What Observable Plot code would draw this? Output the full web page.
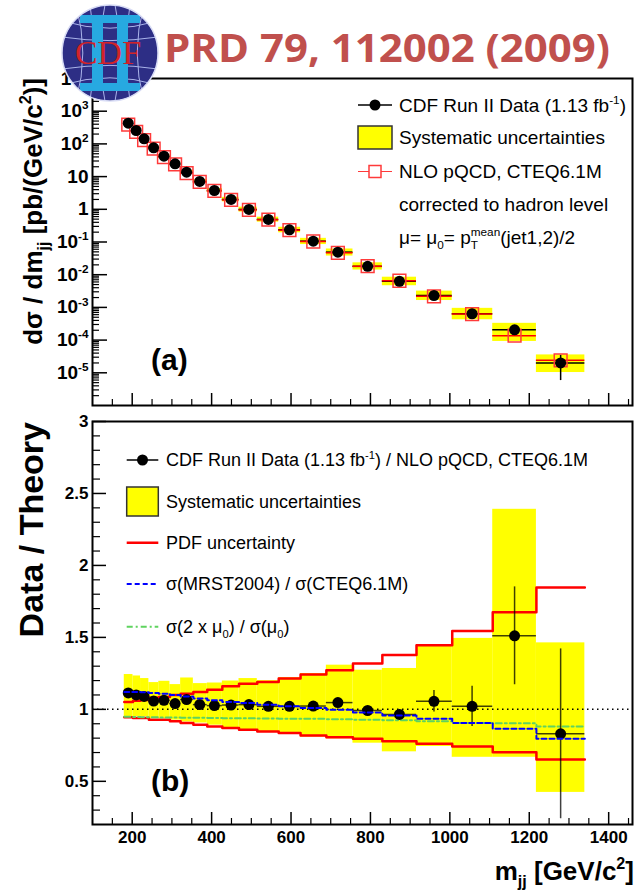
<!DOCTYPE html>
<html><head><meta charset="utf-8">
<script src="https://cdn.jsdelivr.net/npm/d3@7"></script>
<script src="https://cdn.jsdelivr.net/npm/@observablehq/plot@0.6"></script>
<style>
html,body{margin:0;padding:0;background:#fff;}
#wrap{position:relative;width:636px;height:890px;overflow:hidden;background:#fff;}
</style></head><body><div id="wrap"></div>
<script>
// ---------------- data ----------------
const binLow  = [180,202,221,242,267,295,322,354,389,427,469,515,569,624,689,756,830,916,1006,1108,1218];
const binHigh = [202,221,242,267,295,322,354,389,427,469,515,569,624,689,756,830,916,1006,1108,1218,1340];
const massCenter = [190,210,230,254,280,308,337,370,407,449,494,543,596,656,718,793,873,960,1056,1163,1279];
// dsigma/dmjj [pb/(GeV/c^2)]
const dataXsec = [430,257,143,76,42,24.5,13.6,7.1,3.76,2.0,0.99,0.49,0.236,0.106,0.049,0.018,0.0063,0.00231,0.00064,0.000206,0.00002];
const nloXsec  = [386,234,131,71.8,39.5,23.6,12.7,6.87,3.66,1.94,0.958,0.48,0.231,0.1036,0.0468,0.01815,0.00653,0.00219,0.000627,0.000136,0.0000241];
// Data / Theory
const ratio   = [1.114,1.100,1.090,1.058,1.063,1.040,1.068,1.033,1.026,1.030,1.033,1.021,1.021,1.023,1.047,0.992,0.965,1.056,1.021,1.511,0.830];
const statErr = [0.005,0.005,0.005,0.006,0.006,0.007,0.008,0.008,0.009,0.010,0.011,0.012,0.014,0.017,0.020,0.025,0.030,0.075,0.140,0.340,0.590];
const systLow  = [0.950,0.950,0.948,0.935,0.935,0.925,0.912,0.905,0.890,0.872,0.858,0.842,0.826,0.807,0.795,0.765,0.705,0.742,0.667,0.667,0.423];
const systHigh = [1.242,1.232,1.214,1.186,1.195,1.172,1.218,1.179,1.183,1.197,1.214,1.200,1.221,1.249,1.307,1.272,1.284,1.440,1.493,2.390,1.462];
const pdfLow  = [0.946,0.940,0.940,0.928,0.928,0.918,0.905,0.893,0.881,0.870,0.858,0.847,0.835,0.819,0.807,0.795,0.779,0.761,0.742,0.702,0.651];
const pdfHigh = [1.051,1.060,1.065,1.080,1.086,1.100,1.109,1.121,1.137,1.160,1.178,1.190,1.214,1.243,1.272,1.318,1.377,1.446,1.544,1.674,1.846];
const mrstRatio  = [1.121,1.120,1.118,1.114,1.109,1.100,1.090,1.075,1.063,1.051,1.044,1.032,1.021,1.010,0.998,0.978,0.958,0.935,0.906,0.865,0.796];
const scaleRatio = [0.948,0.947,0.946,0.945,0.944,0.943,0.942,0.941,0.940,0.939,0.938,0.937,0.935,0.934,0.932,0.928,0.925,0.918,0.905,0.903,0.881];

// tick values / labels
const xMajor = [200,400,600,800,1000,1200,1400];
const xMinor = [150,250,300,350,450,500,550,650,700,750,850,900,950,1050,1100,1150,1250,1300,1350,1450];
const topYMajor = [1e-5,1e-4,1e-3,1e-2,1e-1,1,10,100,1000,10000];
const botYMajor = [0.5,1,1.5,2,2.5,3];
const botYLabels = ["0.5","1","1.5","2","2.5","3"];

const titleText = "PRD 79, 112002 (2009)";
const topYTitle = "dσ / dm_{jj} [pb/(GeV/c^{2})]";
const botYTitle = "Data / Theory";
const xTitle = "m_{jj} [GeV/c^{2}]";
const topLegendLabels = ["CDF Run II Data (1.13 fb^{-1})","Systematic uncertainties","NLO pQCD, CTEQ6.1M","corrected to hadron level","μ= μ_{0}= p_{T}^{mean}(jet1,2)/2"];
const botLegendLabels = ["CDF Run II Data (1.13 fb^{-1}) / NLO pQCD, CTEQ6.1M","Systematic uncertainties","PDF uncertainty","σ(MRST2004) / σ(CTEQ6.1M)","σ(2 x μ_{0}) / σ(μ_{0})"];

// ---------------- layout ----------------
const W = 636, ML = 92, MR = 4;
const frameW = W - ML - MR;
const topH = 410, topMT = 78, topMB = 5, topFH = topH - topMT - topMB;
const botTop = 400, botH = 490, botMT = 21, botMB = 66, botFH = botH - botMT - botMB;
const xDomain = [100, 1460];
const FONT = "'Liberation Sans', Arial, Helvetica, sans-serif";
const plotStyle = `background: transparent; overflow: visible; font-family: ${FONT}; font-size: 17px; font-weight: bold;`;

const rows = massCenter.map((m, i) => ({
  m, lo: binLow[i], hi: binHigh[i], data: dataXsec[i], nlo: nloXsec[i],
  r: ratio[i], st: statErr[i], sl: systLow[i], sh: systHigh[i]
}));
const stepPts = v => binLow.flatMap((lo, i) => [{x: lo, y: v[i]}, {x: binHigh[i], y: v[i]}]);

const topYMinor = [];
for (let e = -6; e < 4; e++) for (let k = 2; k <= 9; k++) topYMinor.push(k * Math.pow(10, e));
const botYMinor = d3.range(3, 30).map(v => v / 10).filter(v => Math.abs(v * 2 - Math.round(v * 2)) > 1e-6);

const fmtPow = d => {
  const e = Math.round(Math.log10(d));
  return e === 0 ? "1" : e === 1 ? "10" : `10^{${e}}`;
};

// ---------------- overlays (titles / legends) ----------------
function topOverlay() {
  const g = d3.create("svg:g");
  g.append("text").attr("transform", `translate(42,${topMT}) rotate(-90)`).attr("text-anchor", "end")
    .attr("font-size", 26).attr("font-weight", "bold").text(topYTitle);
  g.append("text").attr("x", 151).attr("y", 370).attr("text-anchor", "start").attr("font-size", 30).attr("font-weight", "bold").text("(a)");
  const lx0 = 358, lx1 = 392, lxc = 375, tx = 399, fs = 19;
  const ry = [105, 137.5, 171.5, 204, 237];
  const L = g.append("g");
  L.append("line").attr("x1", lx0).attr("x2", lx1).attr("y1", ry[0]).attr("y2", ry[0]).attr("stroke", "black").attr("stroke-width", 1.5);
  L.append("circle").attr("cx", lxc).attr("cy", ry[0]).attr("r", 5.5).attr("fill", "black");
  L.append("rect").attr("x", lx0).attr("y", ry[1] - 11.5).attr("width", lx1 - lx0).attr("height", 23)
    .attr("fill", "#ffff00").attr("stroke", "#333").attr("stroke-width", 1.5);
  L.append("line").attr("x1", lx0).attr("x2", lx1).attr("y1", ry[2]).attr("y2", ry[2]).attr("stroke", "#ff3a3a").attr("stroke-width", 1.2);
  L.append("rect").attr("x", lxc - 6).attr("y", ry[2] - 6).attr("width", 12).attr("height", 12)
    .attr("fill", "white").attr("stroke", "#ff3a3a").attr("stroke-width", 1.5);
  topLegendLabels.forEach((t, i) => {
    L.append("text").attr("x", tx).attr("y", ry[i] + 0.36 * fs).attr("text-anchor", "start").attr("font-size", fs)
      .attr("font-weight", "normal").attr("fill", "black").text(t);
  });
  return g.node();
}

function botOverlay() {
  const g = d3.create("svg:g");
  g.append("text").attr("transform", `translate(43,${botMT + 1}) rotate(-90)`).attr("text-anchor", "end")
    .attr("font-size", 34).attr("font-weight", "bold").text(botYTitle);
  g.append("text").attr("x", 151).attr("y", 790.5 - botTop).attr("text-anchor", "start").attr("font-size", 30).attr("font-weight", "bold").text("(b)");
  g.append("text").attr("x", 634).attr("y", 880 - botTop).attr("text-anchor", "end")
    .attr("font-size", 26).attr("font-weight", "bold").text(xTitle);
  const lx0 = 126.7, lx1 = 158.3, lxc = 142.5, tx = 166, fs = 18;
  const ry = [460, 501.5, 542.7, 584, 626.7].map(v => v - botTop);
  const L = g.append("g");
  L.append("line").attr("x1", lx0).attr("x2", lx1).attr("y1", ry[0]).attr("y2", ry[0]).attr("stroke", "black").attr("stroke-width", 1.5);
  L.append("circle").attr("cx", lxc).attr("cy", ry[0]).attr("r", 5.5).attr("fill", "black");
  L.append("rect").attr("x", lx0).attr("y", ry[1] - 14.5).attr("width", lx1 - lx0).attr("height", 29)
    .attr("fill", "#ffff00").attr("stroke", "#333").attr("stroke-width", 1.5);
  L.append("line").attr("x1", lx0).attr("x2", lx1).attr("y1", ry[2]).attr("y2", ry[2]).attr("stroke", "#ff0000").attr("stroke-width", 2.5);
  L.append("line").attr("x1", lx0).attr("x2", lx1).attr("y1", ry[3]).attr("y2", ry[3]).attr("stroke", "#0000ff").attr("stroke-width", 2).attr("stroke-dasharray", "5,3");
  L.append("line").attr("x1", lx0).attr("x2", lx1).attr("y1", ry[4]).attr("y2", ry[4]).attr("stroke", "#5fd35f").attr("stroke-width", 2).attr("stroke-dasharray", "6,3,2,3");
  botLegendLabels.forEach((t, i) => {
    L.append("text").attr("x", tx).attr("y", ry[i] + 0.36 * fs).attr("text-anchor", "start").attr("font-size", fs)
      .attr("font-weight", "normal").attr("fill", "black").text(t);
  });
  return g.node();
}

// ---------------- top panel ----------------
const topPlot = Plot.plot({
  width: W, height: topH,
  marginLeft: ML, marginRight: MR, marginTop: topMT, marginBottom: topMB,
  style: plotStyle,
  x: {domain: xDomain, axis: null},
  y: {type: "log", domain: [1e-6, 1e4], label: null},
  marks: [
    Plot.rect(rows, {x1: "lo", x2: "hi", y1: d => d.data * d.sl / d.r, y2: d => d.data * d.sh / d.r, fill: "#ffff00"}),
    Plot.ruleY(rows, {x1: "lo", x2: "hi", y: "data", stroke: "black", strokeWidth: 1.5}),
    Plot.ruleY(rows, {x1: "lo", x2: "hi", y: "nlo", stroke: "#ff0000", strokeWidth: 1.5}),
    Plot.ruleX(rows, {x: "m", y1: d => d.data * (1 - d.st / d.r), y2: d => d.data * (1 + d.st / d.r), stroke: "black", strokeWidth: 1.5}),
    Plot.dot(rows, {x: "m", y: "nlo", symbol: "square", r: 7.2, stroke: "#ff3a3a", strokeWidth: 1.5, fill: "none"}),
    Plot.dot(rows, {x: "m", y: "data", r: 5.5, fill: "black"}),
    Plot.tickY(topYMajor, {y: d => d, insetRight: frameW - 15, stroke: "black", strokeWidth: 1.5}),
    Plot.tickY(topYMinor, {y: d => d, insetRight: frameW - 7, stroke: "black", strokeWidth: 1.2}),
    Plot.tickX(xMajor, {x: d => d, insetTop: topFH - 12, stroke: "black", strokeWidth: 1.5}),
    Plot.tickX(xMinor, {x: d => d, insetTop: topFH - 6, stroke: "black", strokeWidth: 1.2}),
    Plot.axisY({ticks: topYMajor, tickSize: 0, tickPadding: 4, tickFormat: fmtPow, fontSize: 19, fontWeight: "bold", label: null}),
    Plot.frame({stroke: "black", strokeWidth: 2}),
    topOverlay
  ]
});

// ---------------- bottom panel ----------------
const botPlot = Plot.plot({
  width: W, height: botH,
  marginLeft: ML, marginRight: MR, marginTop: botMT, marginBottom: botMB,
  style: plotStyle,
  x: {domain: xDomain, label: null},
  y: {domain: [0.2, 3], label: null},
  marks: [
    Plot.rect(rows, {x1: "lo", x2: "hi", y1: "sl", y2: "sh", fill: "#ffff00"}),
    Plot.line(stepPts(pdfHigh), {x: "x", y: "y", stroke: "#ff0000", strokeWidth: 2.5}),
    Plot.line(stepPts(pdfLow), {x: "x", y: "y", stroke: "#ff0000", strokeWidth: 2.5}),
    Plot.line(stepPts(scaleRatio), {x: "x", y: "y", stroke: "#5fd35f", strokeWidth: 2, strokeDasharray: "6,3,2,3"}),
    Plot.ruleY([1], {stroke: "black", strokeWidth: 1.5, strokeDasharray: "1.5,3.5"}),
    Plot.ruleY(rows, {x1: "lo", x2: "hi", y: "r", stroke: "black", strokeOpacity: 0.75, strokeWidth: 1.5}),
    Plot.ruleX(rows, {x: "m", y1: d => d.r - d.st, y2: d => d.r + d.st, stroke: "black", strokeOpacity: 0.75, strokeWidth: 1.5}),
    Plot.dot(rows, {x: "m", y: "r", r: 5.5, fill: "black"}),
    Plot.line(stepPts(mrstRatio), {x: "x", y: "y", stroke: "#0000ff", strokeWidth: 2, strokeDasharray: "5,3"}),
    Plot.tickY(botYMajor, {y: d => d, insetRight: frameW - 14, stroke: "black", strokeWidth: 1.5}),
    Plot.tickY(botYMinor, {y: d => d, insetRight: frameW - 8, stroke: "black", strokeWidth: 1.2}),
    Plot.tickX(xMajor, {x: d => d, insetTop: botFH - 12, stroke: "black", strokeWidth: 1.5}),
    Plot.tickX(xMinor, {x: d => d, insetTop: botFH - 6, stroke: "black", strokeWidth: 1.2}),
    Plot.axisY({ticks: botYMajor, tickSize: 0, tickPadding: 4, tickFormat: d => botYLabels[botYMajor.indexOf(d)], fontSize: 17, fontWeight: "bold", label: null}),
    Plot.axisX({ticks: xMajor, tickSize: 0, tickPadding: 6, tickFormat: d => String(d), fontSize: 17, fontWeight: "bold", label: null}),
    Plot.frame({stroke: "black", strokeWidth: 2}),
    botOverlay
  ]
});

const wrap = document.getElementById("wrap");
[topPlot, botPlot].forEach((el, i) => {
  el.style.position = "absolute";
  el.style.left = "0px";
  el.style.top = (i === 0 ? 0 : botTop) + "px";
  wrap.appendChild(el);
});

// ---------------- header: logo + title ----------------
const hdr = d3.create("svg").attr("width", W).attr("height", 110)
  .style("position", "absolute").style("left", "0px").style("top", "0px").style("overflow", "visible");
const cx = 110, cy = 53, R = 48;
hdr.append("defs").append("clipPath").attr("id", "logoclip").append("circle").attr("cx", cx).attr("cy", cy).attr("r", R);
hdr.append("circle").attr("cx", cx).attr("cy", cy).attr("r", R).attr("fill", "#2d2e85");
const grid = hdr.append("g").attr("clip-path", "url(#logoclip)").attr("stroke", "#aab4ea").attr("stroke-width", 1).attr("fill", "none");
[-32, -16, 16, 32].forEach(d => grid.append("path").attr("d", `M${cx - R},${cy + d} Q${cx},${cy + d * 0.55} ${cx + R},${cy + d}`));
[-34, -20, 20, 34].forEach(d => grid.append("path").attr("d", `M${cx + d},${cy - R} Q${cx + d * 0.6},${cy} ${cx + d},${cy + R}`));
grid.append("path").attr("d", `M${cx - 5},${cy - R} Q${cx - 16},${cy} ${cx - 5},${cy + R} M${cx + 5},${cy - R} Q${cx + 16},${cy} ${cx + 5},${cy + R}`);
const II = hdr.append("g").attr("fill", "#27a9e1");
II.append("rect").attr("x", cx - 30).attr("y", cy - 38).attr("width", 60).attr("height", 8);
II.append("rect").attr("x", cx - 30).attr("y", cy + 30).attr("width", 60).attr("height", 8);
II.append("rect").attr("x", cx - 18).attr("y", cy - 32).attr("width", 11).attr("height", 64);
II.append("rect").attr("x", cx + 7).attr("y", cy - 32).attr("width", 11).attr("height", 64);
hdr.append("text").attr("x", cx - 2).attr("y", cy + 11).attr("text-anchor", "middle")
  .attr("font-family", "'Liberation Serif', 'DejaVu Serif', serif").attr("font-size", 34).attr("fill", "#d2232a").text("CDF");
hdr.append("circle").attr("cx", cx).attr("cy", cy).attr("r", R).attr("fill", "none").attr("stroke", "#d8dcf5").attr("stroke-width", 1.5);
hdr.append("text").attr("x", 164).attr("y", 62).attr("font-family", "'Open Sans', 'Noto Sans', sans-serif")
  .attr("font-weight", 700).attr("font-size", 40).attr("fill", "#c0504d")
  .attr("textLength", 446).attr("lengthAdjust", "spacingAndGlyphs").text(titleText);
wrap.appendChild(hdr.node());

// ---------------- rich text (sub/superscripts) ----------------
function richify(el, s) {
  const NS = "http://www.w3.org/2000/svg";
  const fs = parseFloat(getComputedStyle(el).fontSize) || 16;
  el.textContent = "";
  const parts = [];
  const re = /([_^])\{([^}]*)\}/g;
  let last = 0, m;
  while ((m = re.exec(s))) {
    if (m.index > last) parts.push({t: s.slice(last, m.index), k: null});
    parts.push({t: m[2], k: m[1] === "^" ? "sup" : "sub"});
    last = re.lastIndex;
  }
  if (last < s.length) parts.push({t: s.slice(last), k: null});
  let off = 0, prev = null, pending = 0;
  for (const p of parts) {
    const ts = document.createElementNS(NS, "tspan");
    ts.textContent = p.t;
    const target = p.k === "sup" ? -0.42 * fs : p.k === "sub" ? 0.28 * fs : 0;
    if (Math.abs(target - off) > 1e-6) ts.setAttribute("dy", (target - off).toFixed(2));
    off = target;
    if (p.k) ts.setAttribute("font-size", (0.62 * fs).toFixed(2));
    const stacked = p.k && prev && prev.k !== p.k;
    let dx = 0;
    if (stacked) dx = -prev.w;
    else if (!p.k && pending) dx = pending;
    if (dx) ts.setAttribute("dx", dx.toFixed(2));
    el.appendChild(ts);
    const w = ts.getComputedTextLength();
    if (stacked) { pending = Math.max(0, prev.w - w); prev = null; }
    else if (p.k) { prev = {k: p.k, w}; pending = 0; }
    else { prev = null; pending = 0; }
  }
}
wrap.querySelectorAll("text, tspan").forEach(el => {
  if (el.children.length === 0 && /[_^]\{/.test(el.textContent)) richify(el, el.textContent);
});
</script>
</body></html>
